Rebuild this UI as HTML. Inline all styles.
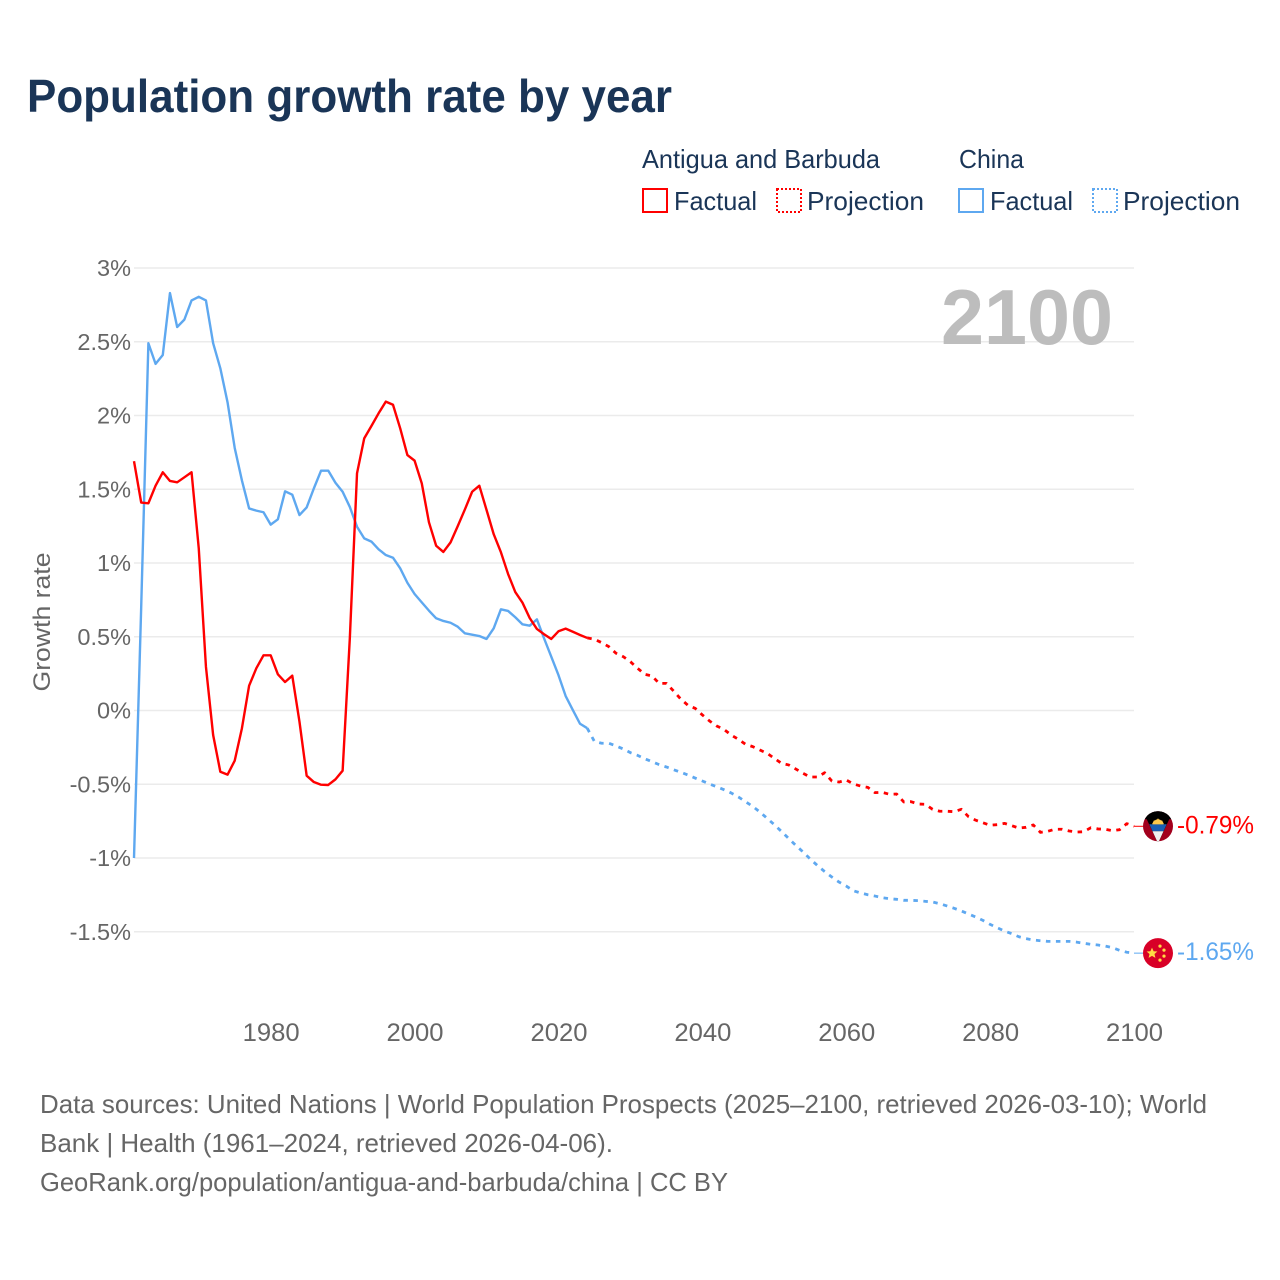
<!DOCTYPE html>
<html lang="en">
<head>
<meta charset="utf-8">
<title>Population growth rate by year</title>
<style>
html,body{margin:0;padding:0;background:#fff;width:1280px;height:1280px;overflow:hidden}
svg{display:block;font-family:"Liberation Sans","DejaVu Sans",sans-serif}
</style>
</head>
<body>
<svg id="chart" width="1280" height="1280" viewBox="0 0 1280 1280" xmlns="http://www.w3.org/2000/svg">
  <rect width="1280" height="1280" fill="#fff"/>
  <text x="27" y="112" font-size="46" font-weight="700" fill="#1a3557" textLength="645" lengthAdjust="spacingAndGlyphs">Population growth rate by year</text>

  <g font-size="26" fill="#1a3557">
    <text x="642" y="168" textLength="238" lengthAdjust="spacingAndGlyphs">Antigua and Barbuda</text>
    <text x="959" y="168" textLength="65" lengthAdjust="spacingAndGlyphs">China</text>
    <rect x="643" y="189" width="24" height="23" fill="none" stroke="#ff0000" stroke-width="2"/>
    <text x="674" y="210" textLength="83" lengthAdjust="spacingAndGlyphs">Factual</text>
    <rect x="777" y="189" width="24" height="23" fill="none" stroke="#ff0000" stroke-width="2" stroke-dasharray="2 2"/>
    <text x="807" y="210" textLength="117" lengthAdjust="spacingAndGlyphs">Projection</text>
    <rect x="959" y="189" width="24" height="23" fill="none" stroke="#5ea8f0" stroke-width="2"/>
    <text x="990" y="210" textLength="83" lengthAdjust="spacingAndGlyphs">Factual</text>
    <rect x="1093" y="189" width="24" height="23" fill="none" stroke="#5ea8f0" stroke-width="2" stroke-dasharray="2 2"/>
    <text x="1123" y="210" textLength="117" lengthAdjust="spacingAndGlyphs">Projection</text>
  </g>

  <g id="grid"></g>
  <g id="y-ticks"></g>
  <g id="x-ticks"></g>
  <text transform="translate(50,622) rotate(-90)" text-anchor="middle" font-size="24" fill="#666" textLength="139" lengthAdjust="spacingAndGlyphs">Growth rate</text>
  <text x="941" y="344" font-size="78" font-weight="700" fill="#bdbdbd" textLength="172" lengthAdjust="spacingAndGlyphs">2100</text>
  <g id="series"></g>

  <defs>
    <clipPath id="flag-clip"><circle cx="0" cy="0" r="15"/></clipPath>
  </defs>
  <g id="flag-antigua">
    <g clip-path="url(#flag-clip)">
      <rect x="-15" y="-16" width="30" height="32" fill="#a2001d"/>
      <polygon points="-15,-16 15,-16 15,-7 -15,-7" fill="#000"/>
      <polygon points="-15,-15 15,-15 0,17" fill="#000"/>
      <polygon points="-8.7,-2 8.7,-2 5.5,5 -5.5,5" fill="#1a5fb4"/>
      <polygon points="-5.5,5 5.5,5 0,17" fill="#f0f0f0"/>
      <path d="M-5,-2 A5,5 0 0 1 5,-2 Z" fill="#ffc94b"/>
      <polygon points="-6,-2 6,-2 4,-6 2,-5 0,-8 -2,-5 -4,-6" fill="#ffc94b"/>
    </g>
  </g>
  <g id="flag-china">
    <circle r="15" fill="#d80027"/>
    <polygon points="-6,-5.5 -4.4,-1.9 -0.6,-1.6 -3.5,0.9 -2.6,4.7 -6,2.7 -9.4,4.7 -8.5,0.9 -11.4,-1.6 -7.6,-1.9" fill="#ffda44"/>
    <circle cx="2" cy="-7" r="1.6" fill="#ffda44"/>
    <circle cx="6" cy="-3" r="1.6" fill="#ffda44"/>
    <circle cx="6" cy="3" r="1.6" fill="#ffda44"/>
    <circle cx="2" cy="7" r="1.6" fill="#ffda44"/>
  </g>
  <g id="end-labels"></g>

  <g font-size="26" fill="#666">
    <text x="40" y="1113" textLength="1167" lengthAdjust="spacingAndGlyphs">Data sources: United Nations | World Population Prospects (2025–2100, retrieved 2026-03-10); World</text>
    <text x="40" y="1152" textLength="573" lengthAdjust="spacingAndGlyphs">Bank | Health (1961–2024, retrieved 2026-04-06).</text>
    <text x="40" y="1191" textLength="688" lengthAdjust="spacingAndGlyphs">GeoRank.org/population/antigua-and-barbuda/china | CC BY</text>
  </g>
</svg>
<script>
const factualStartYear = 1961;
const projectionStartYear = 2024;
const yTickValues = [3, 2.5, 2, 1.5, 1, 0.5, 0, -0.5, -1, -1.5];
const yTickLabels = ['3%', '2.5%', '2%', '1.5%', '1%', '0.5%', '0%', '-0.5%', '-1%', '-1.5%'];
const xTickYears = [1980, 2000, 2020, 2040, 2060, 2080, 2100];
const antiguaFactual = [1.69,1.41,1.405,1.524,1.615,1.556,1.547,1.581,1.615,1.1,0.297,-0.166,-0.415,-0.435,-0.34,-0.121,0.168,0.286,0.374,0.374,0.245,0.193,0.236,-0.076,-0.442,-0.485,-0.503,-0.505,-0.467,-0.408,0.49,1.608,1.845,1.929,2.015,2.094,2.073,1.913,1.732,1.694,1.54,1.276,1.117,1.075,1.14,1.25,1.364,1.483,1.524,1.36,1.195,1.073,0.925,0.803,0.731,0.627,0.553,0.517,0.485,0.537,0.555,0.534,0.512,0.492];
const antiguaProjection = [0.492,0.483,0.46,0.433,0.388,0.365,0.331,0.286,0.245,0.234,0.184,0.184,0.132,0.078,0.035,0.015,-0.03,-0.071,-0.105,-0.128,-0.166,-0.195,-0.229,-0.245,-0.268,-0.29,-0.324,-0.358,-0.369,-0.397,-0.426,-0.451,-0.451,-0.422,-0.478,-0.485,-0.471,-0.498,-0.512,-0.521,-0.557,-0.555,-0.568,-0.566,-0.62,-0.618,-0.634,-0.636,-0.67,-0.683,-0.683,-0.686,-0.67,-0.72,-0.744,-0.761,-0.778,-0.774,-0.765,-0.781,-0.797,-0.792,-0.776,-0.826,-0.819,-0.805,-0.805,-0.817,-0.824,-0.822,-0.795,-0.803,-0.805,-0.815,-0.808,-0.767,-0.785];
const chinaFactual = [-1.0,0.7,2.49,2.35,2.41,2.83,2.6,2.65,2.78,2.805,2.78,2.49,2.32,2.09,1.78,1.56,1.37,1.355,1.344,1.26,1.296,1.486,1.463,1.325,1.377,1.506,1.626,1.626,1.544,1.483,1.38,1.246,1.167,1.145,1.093,1.054,1.036,0.964,0.866,0.79,0.733,0.677,0.625,0.607,0.595,0.568,0.523,0.514,0.505,0.485,0.557,0.686,0.675,0.632,0.584,0.575,0.618,0.489,0.365,0.24,0.098,0.003,-0.09,-0.12];
const chinaProjection = [-0.12,-0.21,-0.222,-0.222,-0.24,-0.261,-0.286,-0.304,-0.327,-0.347,-0.367,-0.383,-0.401,-0.419,-0.437,-0.458,-0.478,-0.498,-0.517,-0.537,-0.559,-0.586,-0.618,-0.65,-0.688,-0.731,-0.774,-0.82,-0.868,-0.915,-0.959,-1.007,-1.051,-1.092,-1.129,-1.163,-1.19,-1.222,-1.237,-1.249,-1.258,-1.269,-1.276,-1.28,-1.287,-1.287,-1.289,-1.294,-1.298,-1.31,-1.325,-1.341,-1.359,-1.38,-1.4,-1.423,-1.45,-1.473,-1.495,-1.513,-1.534,-1.547,-1.556,-1.561,-1.565,-1.565,-1.565,-1.565,-1.57,-1.578,-1.585,-1.59,-1.597,-1.608,-1.626,-1.639,-1.645];
const antiguaEndLabel = '-0.79%';
const chinaEndLabel = '-1.65%';

const NS = 'http://www.w3.org/2000/svg';
const xLeft = 134, xRight = 1134, yearMin = 1961, yearMax = 2100;
const yZero = 710.5, pxPerUnit = 147.5;
function xScale(year) { return xLeft + (year - yearMin) * (xRight - xLeft) / (yearMax - yearMin); }
function yScale(v) { return yZero - v * pxPerUnit; }
function pathFor(values, startYear) {
  return values.map(function (v, i) {
    return (i ? 'L' : 'M') + xScale(startYear + i).toFixed(2) + ' ' + yScale(v).toFixed(2);
  }).join(' ');
}

const grid = document.getElementById('grid');
const yTicks = document.getElementById('y-ticks');
yTickValues.forEach(function (v, i) {
  const line = document.createElementNS(NS, 'line');
  
  
  line.setAttribute('x1', xLeft);
  line.setAttribute('x2', xRight);
  line.setAttribute('y1', yScale(v));
  line.setAttribute('y2', yScale(v));
  line.setAttribute('stroke', '#ebebeb');
  line.setAttribute('stroke-width', '1.5');
  grid.appendChild(line);
  const label = document.createElementNS(NS, 'text');
  
  
  label.setAttribute('x', 131);
  label.setAttribute('y', yScale(v) + 8);
  label.setAttribute('text-anchor', 'end');
  label.setAttribute('font-size', '23.5');
  label.setAttribute('fill', '#666');
  label.textContent = yTickLabels[i];
  yTicks.appendChild(label);
});

const xTicks = document.getElementById('x-ticks');
xTickYears.forEach(function (year) {
  const label = document.createElementNS(NS, 'text');
  
  
  label.setAttribute('x', xScale(year) + 0.5);
  label.setAttribute('y', 1041);
  label.setAttribute('text-anchor', 'middle');
  label.setAttribute('font-size', '25');
  label.setAttribute('fill', '#666');
  label.setAttribute('textLength', '57');
  label.setAttribute('lengthAdjust', 'spacingAndGlyphs');
  label.textContent = String(year);
  xTicks.appendChild(label);
});

const seriesGroup = document.getElementById('series');
function drawLine(name, values, startYear, color, dashed) {
  const p = document.createElementNS(NS, 'path');
  
  
  p.setAttribute('d', pathFor(values, startYear));
  p.setAttribute('fill', 'none');
  p.setAttribute('stroke', color);
  p.setAttribute('stroke-width', dashed ? '2.8' : '2.4');
  p.setAttribute('stroke-linejoin', 'round');
  if (dashed) { p.setAttribute('stroke-dasharray', '4.5 5.5'); }
  seriesGroup.appendChild(p);
}
drawLine('china-factual-line', chinaFactual, factualStartYear, '#5ea8f0', false);
drawLine('antigua-factual-line', antiguaFactual, factualStartYear, '#ff0000', false);
drawLine('china-projection-line', chinaProjection, projectionStartYear, '#5ea8f0', true);
drawLine('antigua-projection-line', antiguaProjection, projectionStartYear, '#ff0000', true);

const endLabels = document.getElementById('end-labels');
function drawEnd(flagId, name, values, text, color) {
  const yEnd = yScale(values[values.length - 1]);
  document.getElementById(flagId).setAttribute('transform', 'translate(1158,' + yEnd + ')');
  const link = document.createElementNS(NS, 'line');
  
  
  link.setAttribute('x1', xRight);
  link.setAttribute('x2', 1143);
  link.setAttribute('y1', yEnd);
  link.setAttribute('y2', yEnd);
  link.setAttribute('stroke', color);
  link.setAttribute('stroke-width', '1');
  endLabels.appendChild(link);
  const t = document.createElementNS(NS, 'text');
  
  
  t.setAttribute('x', 1177);
  t.setAttribute('y', yEnd + 7);
  t.setAttribute('font-size', '25');
  t.setAttribute('fill', color);
  t.setAttribute('textLength', '77');
  t.setAttribute('lengthAdjust', 'spacingAndGlyphs');
  t.textContent = text;
  endLabels.appendChild(t);
}
drawEnd('flag-antigua', 'antigua', antiguaProjection, antiguaEndLabel, '#ff0000');
drawEnd('flag-china', 'china', chinaProjection, chinaEndLabel, '#5ea8f0');
</script>
</body>
</html>
